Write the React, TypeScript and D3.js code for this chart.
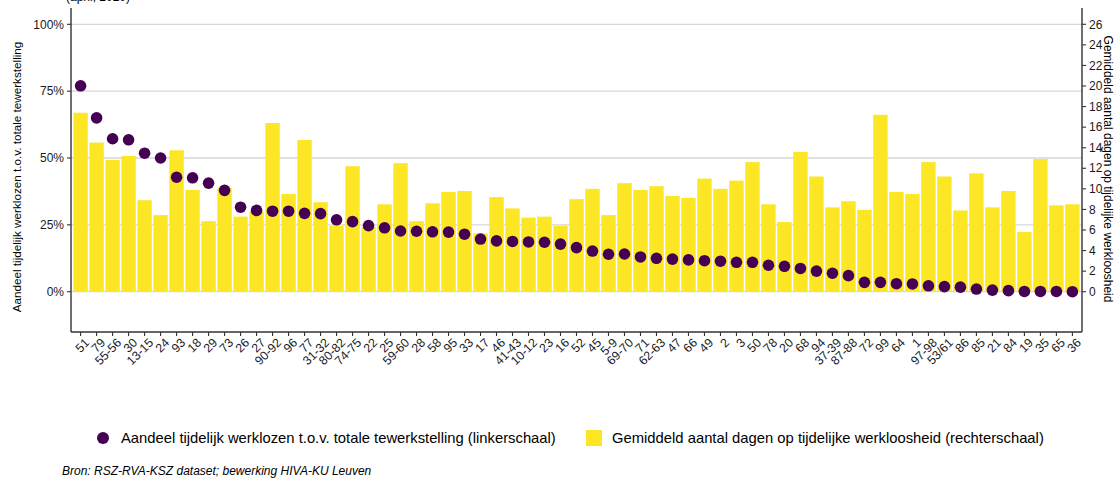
import React from "react";
import * as d3 from "d3";

const categories = ["51","79","55-56","30","13-15","24","93","18","29","73","26","27","90-92","96","77","31-32","80-82","74-75","22","25","59-60","28","58","95","33","17","46","41-43","10-12","23","16","52","45","5-9","69-70","71","62-63","47","66","49","2","3","50","78","20","68","94","37-39","87-88","72","99","64","1","97-98","53/61","86","85","21","84","19","35","65","36"];

const shareTemporaryUnemployed = [77.0,65.0,57.2,56.8,51.8,50.0,42.8,42.6,40.6,37.9,31.6,30.4,30.1,30.1,29.3,29.2,26.9,26.2,24.7,23.9,22.7,22.6,22.4,22.3,21.5,19.7,19.0,18.8,18.6,18.5,17.8,16.5,15.2,14.0,14.1,13.0,12.5,12.2,11.9,11.6,11.4,11.0,11.0,9.9,9.5,8.7,7.7,6.9,6.0,3.5,3.5,3.0,2.9,2.2,1.9,1.7,1.0,0.6,0.4,0.1,0.1,0.1,0.0];

const avgDays = [17.4,14.5,12.8,13.2,8.9,7.45,13.75,9.9,6.86,10.1,7.3,7.8,16.4,9.5,14.75,8.7,6.4,12.2,6.3,8.5,12.5,6.86,8.6,9.7,9.8,5.67,9.2,8.1,7.2,7.3,6.4,9.0,10.0,7.45,10.55,9.9,10.26,9.3,9.13,11.0,10.0,10.8,12.6,8.5,6.77,13.6,11.2,8.2,8.8,7.96,17.2,9.7,9.5,12.6,11.2,7.9,11.5,8.2,9.8,5.8,12.9,8.4,8.5];

const leftTicks = [0, 25, 50, 75, 100];
const rightTicks = [0,2,4,6,8,10,12,14,16,18,20,22,24,26];

const legendDots = "Aandeel tijdelijk werklozen t.o.v. totale tewerkstelling (linkerschaal)";
const legendBars = "Gemiddeld aantal dagen op tijdelijke werkloosheid (rechterschaal)";
const leftTitle = "Aandeel tijdelijk werklozen t.o.v. totale tewerkstelling";
const rightTitle = "Gemiddeld aantal dagen op tijdelijke werkloosheid";
const source = "Bron: RSZ-RVA-KSZ dataset; bewerking HIVA-KU Leuven";

const W = 1117, H = 481;
const L = 71, R = 1082, T = 8, B = 332;
const PURPLE = "#440154";
const YELLOW = "#FDE725";
const FONT = "'Liberation Sans', Arial, sans-serif";

export default function App() {
  const x = d3.scaleBand<string>().domain(categories).range([L, R]).paddingInner(0.1).paddingOuter(0.15);
  const yL = d3.scaleLinear().domain([-15.07, 106.1]).range([B, T]);
  const yR = d3.scaleLinear().domain([-15.07 * 0.26, 106.1 * 0.26]).range([B, T]);
  const bw = x.bandwidth();
  return (
    <svg width={W} height={H} style={{ position: "absolute", left: 0, top: 0, fontFamily: FONT }}>
      <rect width={W} height={H} fill="#fff" />
      <text x={66} y={1} fontSize={12} fill="#000">(april, 2020)</text>
      {leftTicks.map(t => (
        <line key={"g" + t} x1={L} x2={R} y1={yL(t)} y2={yL(t)} stroke="#d6d6d6" strokeWidth={1.3} />
      ))}
      {categories.map((c, i) => (
        <rect key={"b" + c} x={x(c)} width={bw} y={yR(avgDays[i])} height={yR(0) - yR(avgDays[i])} fill={YELLOW} />
      ))}
      {categories.map((c, i) => (
        <circle key={"p" + c} cx={(x(c) as number) + bw / 2} cy={yL(shareTemporaryUnemployed[i])} r={5.8} fill={PURPLE} />
      ))}
      <line x1={L} x2={L} y1={T} y2={B} stroke="#333" strokeWidth={1.4} />
      <line x1={R} x2={R} y1={T} y2={B} stroke="#333" strokeWidth={1.4} />
      <line x1={L} x2={R} y1={B} y2={B} stroke="#333" strokeWidth={1.4} />
      {leftTicks.map(t => (
        <g key={"lt" + t}>
          <line x1={L - 4} x2={L} y1={yL(t)} y2={yL(t)} stroke="#333" strokeWidth={1.1} />
          <text x={L - 7} y={yL(t)} dy="0.35em" textAnchor="end" fontSize={12} fill="#1a1a1a">{t}%</text>
        </g>
      ))}
      {rightTicks.map(t => (
        <g key={"rt" + t}>
          <line x1={R} x2={R + 4} y1={yR(t)} y2={yR(t)} stroke="#333" strokeWidth={1.1} />
          <text x={R + 7} y={yR(t)} dy="0.35em" textAnchor="start" fontSize={12} fill="#1a1a1a">{t}</text>
        </g>
      ))}
      {categories.map(c => {
        const cx = (x(c) as number) + bw / 2;
        return (
          <g key={"xt" + c}>
            <line x1={cx} x2={cx} y1={B} y2={B + 4} stroke="#333" strokeWidth={1.1} />
            <text transform={`translate(${cx + 3},${B + 5}) rotate(-45)`} dy="0.75em" textAnchor="end" fontSize={12.3} fill="#1a1a1a">{c}</text>
          </g>
        );
      })}
      <text transform={`translate(21,177) rotate(-90)`} textAnchor="middle" fontSize={11.7} fill="#000">{leftTitle}</text>
      <text transform={`translate(1104,169) rotate(90)`} textAnchor="middle" fontSize={12} fill="#000">{rightTitle}</text>
      <circle cx={103} cy={438} r={6} fill={PURPLE} />
      <text x={121} y={443} fontSize={14.8} fill="#000">{legendDots}</text>
      <rect x={586} y={430} width={16} height={16} fill={YELLOW} />
      <text x={612} y={443} fontSize={14.8} fill="#000">{legendBars}</text>
      <text x={62} y={475} fontSize={12} fontStyle="italic" fill="#000">{source}</text>
    </svg>
  );
}
